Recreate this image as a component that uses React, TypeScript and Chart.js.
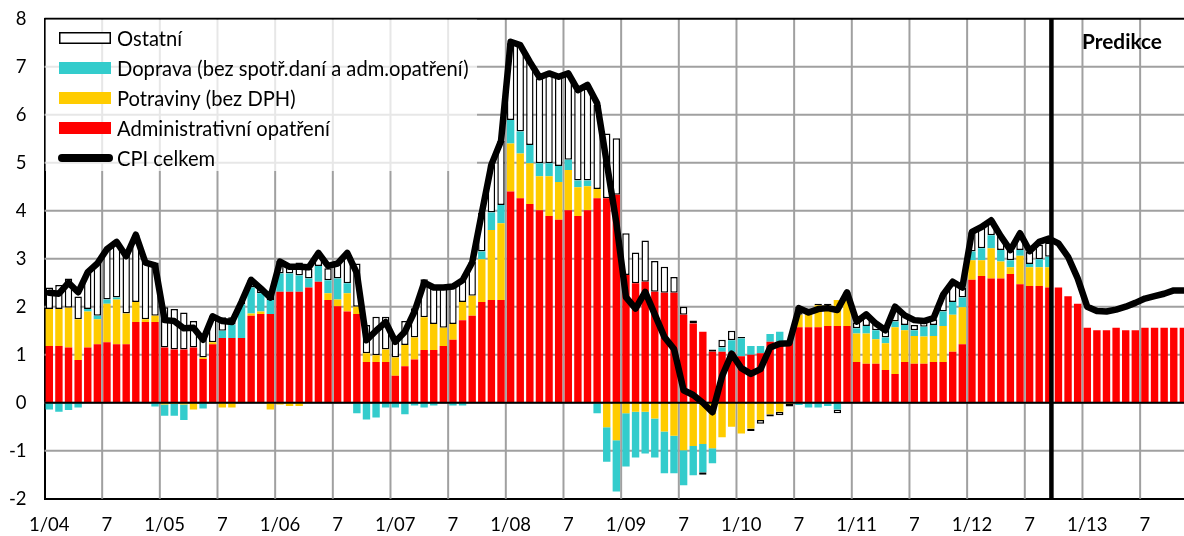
import React, { useEffect, useRef } from 'react';
import { Chart, registerables } from 'chart.js';

Chart.register(...registerables);

// ---- categories (monthly, 1/04 .. 12/13) ----
const years = ['04', '05', '06', '07', '08', '09', '10', '11', '12', '13'];
const monthNumbers = [1, 2, 3, 4, 5, 6, 7, 8, 9, 10, 11, 12];
const months: string[] = years.flatMap((y) => monthNumbers.map((m) => `${m}/${y}`));

// ---- series values (percentage points) ----
const admin = [
  1.18, 1.18, 1.15, 0.89, 1.15, 1.22, 1.26, 1.22, 1.22, 1.68, 1.68, 1.68,
  1.15, 1.11, 1.11, 1.15, 0.91, 1.22, 1.35, 1.35, 1.35, 1.81, 1.85, 1.85,
  2.31, 2.31, 2.31, 2.40, 2.52, 2.14, 2.01, 1.90, 1.85, 0.85, 0.85, 0.85,
  0.56, 0.76, 0.90, 1.10, 1.10, 1.18, 1.31, 1.72, 1.81, 2.10, 2.14, 2.14,
  4.40, 4.26, 4.14, 4.01, 3.89, 3.81, 4.01, 3.89, 4.01, 4.26, 4.26, 4.33,
  2.66, 2.49, 2.52, 2.31, 2.29, 2.29, 1.83, 1.65, 1.48, 1.06, 1.06, 1.05,
  0.97, 1.00, 1.03, 1.27, 1.27, 1.28, 1.57, 1.57, 1.57, 1.60, 1.60, 1.60,
  0.85, 0.81, 0.81, 0.68, 0.60, 0.85, 0.81, 0.81, 0.85, 0.85, 1.06, 1.22,
  2.56, 2.64, 2.59, 2.59, 2.68, 2.47, 2.43, 2.43, 2.40, 2.40, 2.22, 2.06,
  1.56, 1.51, 1.51, 1.56, 1.51, 1.51, 1.56, 1.56, 1.56, 1.56, 1.56, 1.56,
];

const potraviny: (number | null)[] = [
  0.77, 0.77, 0.83, 0.85, 0.75, 0.52, 0.80, 0.93, 0.64, 0.42, 0.06, 0.13,
  -0.04, -0.02, -0.04, -0.14, 0.03, 0.04, -0.10, -0.10, 0, 0.05, 0.05, -0.14,
  -0.04, -0.07, -0.07, 0, 0, 0.14, 0.14, 0.38, 0.15, 0.18, 0.14, 0.26,
  0.38, 0.44, 0.46, 0.68, 0.54, 0.38, 0.33, 0.38, 0.42, 0.89, 1.46, 1.60,
  1.00, 0.93, 0.85, 0.71, 0.83, 0.79, 0.84, 0.60, 0.50, 0.19, -0.51, -0.78,
  -0.22, -0.19, -0.19, -0.33, -0.60, -0.69, -0.99, -0.90, -0.86, -0.95, -0.72, -0.50,
  -0.64, -0.54, -0.36, -0.24, -0.19, -0.02, 0.26, 0.29, 0.46, 0.43, 0.54, 0.62,
  0.59, 0.63, 0.51, 0.56, 0.97, 0.66, 0.58, 0.57, 0.54, 0.75, 0.77, 0.77,
  0.41, 0.33, 0.63, 0.35, 0.14, 0.59, 0.39, 0.39, 0.42, null, null, null,
  null, null, null, null, null, null, null, null, null, null, null, null,
];

const doprava: (number | null)[] = [
  -0.14, -0.19, -0.15, -0.10, 0.05, 0.07, 0.09, 0.04, 0, 0, 0, -0.08,
  -0.23, -0.25, -0.32, 0, -0.12, 0, 0.15, 0.28, 0.70, 0.54, 0.38, 0.29,
  0.38, 0.38, 0.34, 0.19, 0.33, 0.27, 0.44, 0.21, -0.22, -0.35, -0.31, -0.10,
  -0.10, -0.24, -0.06, -0.10, -0.06, 0, -0.06, -0.06, 0, 0.16, 0.36, 0.38,
  0.49, 0.46, 0.38, 0.27, 0.27, 0.33, 0.21, 0.14, 0.12, -0.22, -0.72, -1.07,
  -1.11, -0.95, -0.87, -0.81, -0.87, -0.78, -0.73, -0.61, -0.59, -0.31, 0.09, 0.25,
  0.37, 0.18, 0.15, 0.16, 0.21, 0, -0.05, -0.10, -0.10, -0.07, -0.14, 0.05,
  0.11, 0.16, 0.19, 0.12, 0.12, 0.11, 0.12, 0.20, 0.23, 0.30, 0.27, 0.20,
  0.18, 0.25, 0.27, 0.24, 0.15, 0.12, 0.07, 0.17, 0.22, null, null, null,
  null, null, null, null, null, null, null, null, null, null, null, null,
];

const ostatni: (number | null)[] = [
  0.45, 0.50, 0.61, 0.47, 0.77, 1.09, 1.05, 1.16, 1.24, 1.40, 1.20, 1.11,
  0.84, 0.84, 0.77, 0.55, 0.50, 0.55, 0.28, 0.15, 0.05, 0.16, 0.10, 0.18,
  0.27, 0.20, 0.27, 0.20, 0.25, 0.25, 0.31, 0.60, 0.90, 0.59, 0.80, 0.68,
  0.43, 0.50, 0.61, 0.79, 0.80, 0.84, 0.83, 0.47, 0.70, 0.80, 1.00, 1.33,
  1.60, 1.80, 1.73, 1.77, 1.87, 1.86, 1.80, 1.88, 2.00, 1.75, 1.35, 1.18,
  0.87, 0.64, 0.86, 0.64, 0.54, 0.33, 0.17, 0.06, -0.05, 0.05, 0.16, 0.20,
  0.03, -0.05, -0.08, -0.05, -0.07, -0.06, 0.17, 0.10, 0.03, 0.03, -0.08, 0.03,
  0.12, 0.24, 0.13, 0.15, 0.31, 0.20, 0.11, 0.09, 0.12, 0.35, 0.40, 0.20,
  0.40, 0.43, 0.30, 0.30, 0.20, 0.35, 0.25, 0.30, 0.30, null, null, null,
  null, null, null, null, null, null, null, null, null, null, null, null,
];

const cpi = [
  2.29, 2.27, 2.50, 2.30, 2.72, 2.90, 3.20, 3.35, 3.05, 3.50, 2.92, 2.86,
  1.72, 1.70, 1.55, 1.56, 1.31, 1.80, 1.70, 1.68, 2.10, 2.56, 2.38, 2.19,
  2.94, 2.83, 2.83, 2.82, 3.12, 2.85, 2.90, 3.12, 2.70, 1.30, 1.50, 1.68,
  1.27, 1.48, 1.90, 2.50, 2.40, 2.40, 2.42, 2.55, 2.92, 3.95, 4.96, 5.45,
  7.52, 7.45, 7.10, 6.78, 6.86, 6.79, 6.86, 6.51, 6.62, 6.24, 5.00, 3.75,
  2.20, 1.96, 2.31, 1.84, 1.37, 1.12, 0.26, 0.16, 0.00, -0.20, 0.55, 1.02,
  0.72, 0.60, 0.70, 1.15, 1.23, 1.24, 1.97, 1.88, 1.95, 1.97, 1.93, 2.30,
  1.69, 1.84, 1.65, 1.51, 2.00, 1.82, 1.72, 1.70, 1.76, 2.25, 2.52, 2.40,
  3.56, 3.66, 3.80, 3.47, 3.18, 3.53, 3.16, 3.35, 3.42, 3.32, 3.04, 2.59,
  2.00, 1.91, 1.90, 1.94, 2.00, 2.08, 2.17, 2.22, 2.27, 2.34, 2.34, 2.34,
];

const yTicks = [-2, -1, 0, 1, 2, 3, 4, 5, 6, 7, 8];
const seriesNames = [
  'Ostatní',
  'Doprava (bez spotř.daní a adm.opatření)',
  'Potraviny (bez DPH)',
  'Administrativní opatření',
  'CPI celkem',
];
const predictionLabel = 'Predikce';
const lastActualIndex = 104; // 9/12

const RED = '#ff0000';
const YELLOW = '#ffcc00';
const TEAL = '#33cccc';
const GRID = '#a0a0a0';
const FONT = 'Lato, "Open Sans", "DejaVu Sans", sans-serif';

function tickLabel(i: number): string {
  const lab = months[i] || '';
  const [m] = lab.split('/');
  if (m === '1') return lab;
  if (m === '7') return '7';
  return '';
}

function strokeLine(ctx: CanvasRenderingContext2D, x1: number, y1: number, x2: number, y2: number) {
  ctx.beginPath();
  ctx.moveTo(x1, y1);
  ctx.lineTo(x2, y2);
  ctx.stroke();
}

const gridPlugin = {
  id: 'manualGrid',
  beforeDatasetsDraw(chart: any) {
    const { ctx, chartArea: ca, scales } = chart;
    const x = scales.x;
    const y = scales.y;
    ctx.save();
    ctx.lineWidth = 2;
    ctx.strokeStyle = GRID;
    for (const v of yTicks) {
      if (v === yTicks[0] || v === yTicks[yTicks.length - 1]) continue;
      const py = y.getPixelForValue(v);
      strokeLine(ctx, ca.left, py, ca.right, py);
    }
    const half = (x.getPixelForValue(1) - x.getPixelForValue(0)) / 2;
    for (let i = 6; i < months.length; i += 6) {
      const px = x.getPixelForValue(i) - half;
      strokeLine(ctx, px, ca.top, px, ca.bottom);
    }
    ctx.strokeStyle = '#000';
    const pt = y.getPixelForValue(yTicks[yTicks.length - 1]);
    strokeLine(ctx, ca.left, pt, ca.right, pt);
    ctx.restore();
  },
};

const overlayPlugin = {
  id: 'overlayLines',
  afterDatasetsDraw(chart: any) {
    const { ctx, chartArea: ca, scales } = chart;
    const x = scales.x;
    const y = scales.y;
    ctx.save();
    ctx.strokeStyle = '#000';
    const y0 = y.getPixelForValue(0);
    ctx.lineWidth = 2;
    strokeLine(ctx, ca.left, y0, ca.right, y0);
    const p0 = x.getPixelForValue(lastActualIndex);
    const p1 = x.getPixelForValue(lastActualIndex + 1);
    const px = p0 + (p1 - p0) * 0.27;
    ctx.lineWidth = 4.5;
    strokeLine(ctx, px, ca.top, px, ca.bottom);
    ctx.restore();
  },
};

const legendPlugin = {
  id: 'boxLegend',
  afterDraw(chart: any) {
    const { ctx, chartArea: ca } = chart;
    ctx.save();
    ctx.fillStyle = 'rgba(255,255,255,0.75)';
    ctx.fillRect(ca.left + 1, ca.top + 1, 477 - ca.left - 1, 171 - ca.top - 1);

    ctx.font = `20px ${FONT}`;
    const w = ctx.measureText(seriesNames[1]).width;
    const size = (20 * 352) / w;
    ctx.font = `${size}px ${FONT}`;
    ctx.textBaseline = 'middle';
    ctx.textAlign = 'left';

    const rows = [38, 68, 98, 128, 158];
    const fills = ['#ffffff', TEAL, YELLOW, RED];
    for (let k = 0; k < 5; k++) {
      const ry = rows[k];
      if (k < 4) {
        ctx.fillStyle = fills[k];
        ctx.fillRect(59, ry - 6, 52, 12);
        if (k === 0) {
          ctx.strokeStyle = '#000';
          ctx.lineWidth = 1.5;
          ctx.strokeRect(59.75, ry - 5.25, 50.5, 10.5);
        }
      } else {
        ctx.strokeStyle = '#000';
        ctx.lineWidth = 8;
        ctx.lineCap = 'round';
        strokeLine(ctx, 62, ry, 109, ry);
      }
      ctx.fillStyle = '#000';
      ctx.fillText(seriesNames[k], 117, ry + 1);
    }

    ctx.font = `bold 18px ${FONT}`;
    const pw = ctx.measureText(predictionLabel).width;
    const ps = (18 * 80) / pw;
    ctx.font = `bold ${ps}px ${FONT}`;
    ctx.textAlign = 'center';
    ctx.fillStyle = '#000';
    ctx.fillText(predictionLabel, 1122, 42);
    ctx.restore();
  },
};

export default function App() {
  const canvasRef = useRef<HTMLCanvasElement | null>(null);

  useEffect(() => {
    const canvas = canvasRef.current;
    if (!canvas) return;
    const tickFont = { family: FONT, size: 18.5 };
    const chart = new Chart(canvas, {
      type: 'bar',
      data: {
        labels: months,
        datasets: [
          {
            type: 'line',
            label: seriesNames[4],
            data: cpi,
            borderColor: '#000',
            backgroundColor: '#000',
            borderWidth: 6.5,
            pointRadius: 0,
            tension: 0,
            fill: false,
            borderJoinStyle: 'round',
            borderCapStyle: 'round',
            stack: 'cpi',
            order: -1,
          } as any,
          { label: seriesNames[3], data: admin, backgroundColor: RED, stack: 'b', order: 0 },
          { label: seriesNames[2], data: potraviny, backgroundColor: YELLOW, stack: 'b', order: 0 },
          { label: seriesNames[1], data: doprava, backgroundColor: TEAL, stack: 'b', order: 0 },
          {
            label: seriesNames[0],
            data: ostatni,
            backgroundColor: '#ffffff',
            borderColor: '#000',
            borderWidth: 1.5,
            borderSkipped: false,
            stack: 'b',
            order: 0,
          },
        ],
      },
      options: {
        responsive: false,
        animation: false,
        events: [],
        layout: { padding: { top: 18.7, right: 3.5, left: 0, bottom: 0 } },
        plugins: { legend: { display: false }, tooltip: { enabled: false } },
        datasets: { bar: { barPercentage: 0.77, categoryPercentage: 1 } },
        scales: {
          x: {
            stacked: true,
            offset: true,
            grid: { display: false, offset: true, drawTicks: false },
            border: { display: true, color: '#000', width: 2 },
            ticks: {
              autoSkip: false,
              maxRotation: 0,
              minRotation: 0,
              padding: 15,
              color: '#000',
              font: tickFont,
              callback: (_v: any, i: number) => tickLabel(i),
            },
            afterFit: (s: any) => {
              s.height = 37.3;
            },
          },
          y: {
            stacked: true,
            min: yTicks[0],
            max: yTicks[yTicks.length - 1],
            ticks: { stepSize: 1, padding: 0, color: '#000', font: tickFont },
            grid: { display: false, drawTicks: true, tickLength: 18 },
            border: { display: true, color: '#000', width: 2 },
            afterFit: (s: any) => {
              s.width = 44.5;
            },
          },
        },
      } as any,
      plugins: [gridPlugin, overlayPlugin, legendPlugin],
    });

    let alive = true;
    const fonts: any = (document as any).fonts;
    if (fonts && fonts.load) {
      Promise.all([fonts.load(`18px Lato`), fonts.load(`bold 18px Lato`)])
        .then(() => {
          if (alive) chart.update();
        })
        .catch(() => {});
    }
    return () => {
      alive = false;
      chart.destroy();
    };
  }, []);

  return (
    <div
      style={{
        position: 'fixed',
        left: 0,
        top: 0,
        width: 1184,
        height: 536,
        overflow: 'hidden',
        background: '#ffffff',
      }}
    >
      <canvas ref={canvasRef} width={1208} height={536} style={{ display: 'block' }} />
    </div>
  );
}
